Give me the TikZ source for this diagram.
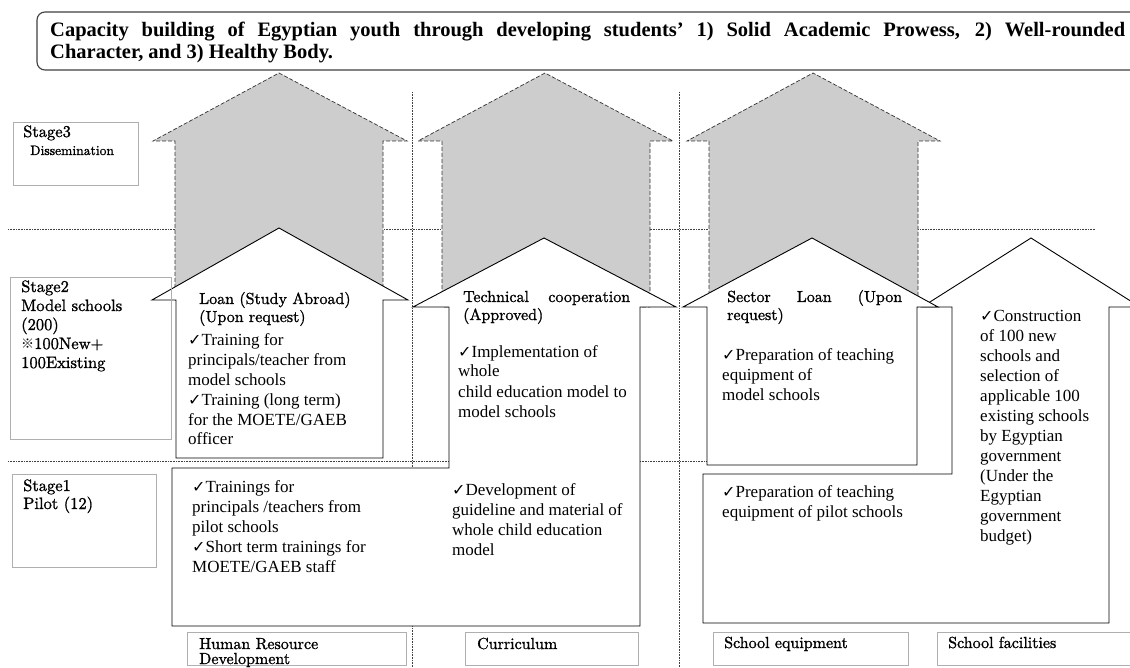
\documentclass[tikz,border=0pt]{standalone}
\usepackage{fontspec}
\newfontfamily\tms{Liberation Serif}
\newfontfamily\ckf{DejaVu Sans}
\newfontfamily\cjk{Noto Sans CJK JP}
\newfontfamily\cent{lmroman10-regular.otf}[FakeBold=1.2]
\definecolor{greyfill}{RGB}{205,205,205}
\definecolor{boxline}{RGB}{175,175,175}
\newcommand\ck{{\ckf\fontsize{16}{16}\selectfont ✓}}
\newcommand\tbk[2]{\parbox[t]{#1}{\raggedright #2}}
\tikzset{
  dotline/.style={densely dotted, line width=0.6pt, black!75},
  greyarrow/.style={fill=greyfill, draw=black!80, dash pattern=on 4pt off 2pt, line width=0.7pt},
  whitearrow/.style={fill=white, draw=black, line width=0.9pt, line join=miter},
  labelbox/.style={draw=boxline, line width=0.8pt},
  body/.style={inner sep=0pt, anchor=base west, font=\tms\fontsize{17}{20}\selectfont},
  head/.style={inner sep=0pt, anchor=base west, font=\cent\fontsize{16}{18}\selectfont},
  stagetxt/.style={inner sep=0pt, anchor=base west, font=\cent\fontsize{16.5}{19}\selectfont},
}
\begin{document}
\begin{tikzpicture}[x=1pt,y=-1pt]
\useasboundingbox (0,0) rectangle (1130,668);
\clip (0,0) rectangle (1130,668);
\fill[white] (0,0) rectangle (1130,668);

% banner
\draw[rounded corners=8pt, draw=black!75, line width=1.1pt] (37,12) rectangle (1150,70);
\node[inner sep=0pt, anchor=base west, font=\tms\bfseries\fontsize{20.5}{22}\selectfont] (title) at (50,37)
  {\parbox[t]{1075pt}{Capacity building of Egyptian youth through developing students’ 1) Solid Academic Prowess, 2) Well-rounded\linebreak Character, and 3) Healthy Body.}};

% dotted guide lines
\draw[dotline] (8,229) -- (1095,229);
\draw[dotline] (8,461) -- (707,461);
\draw[dotline] (412,92) -- (412,668);
\draw[dotline] (679,92) -- (679,668);

% grey (stage 3) arrows
\draw[greyarrow] (175,300) -- (175,141) -- (153,141) -- (279,73) -- (407,141) -- (383,141) -- (383,300) -- cycle;
\draw[greyarrow] (442,307) -- (442,141) -- (418,141) -- (545,73) -- (673,141) -- (650,141) -- (650,307) -- cycle;
\draw[greyarrow] (709,307) -- (709,141) -- (687,141) -- (813,73) -- (940,141) -- (918,141) -- (918,307) -- cycle;

% white arrows
\draw[whitearrow] (172,468) -- (449,468) -- (449,307) -- (413,307) -- (544,238) -- (676,307) -- (640,307) -- (640,626) -- (172,626) -- cycle;
\draw[whitearrow] (176,458) -- (176,300) -- (152,300) -- (279,228) -- (408,300) -- (383,300) -- (383,458) -- cycle;
\draw[whitearrow] (703,474) -- (952,474) -- (952,307) -- (922,307) -- (1031,238) -- (1140,307) -- (1109,307) -- (1109,623) -- (703,623) -- cycle;
\draw[whitearrow] (707,465) -- (707,307) -- (683,307) -- (812,238) -- (938,307) -- (917,307) -- (917,465) -- cycle;

% stage boxes
\draw[labelbox] (13,122) rectangle (138,185);
\draw[labelbox] (10,277) rectangle (171,439);
\draw[labelbox] (12,474) rectangle (156,567);
\node[stagetxt] (s3a) at (23,137) {Stage3};
\node[inner sep=0pt, anchor=base west, font=\cent\fontsize{13.6}{16}\selectfont] (s3b) at (30,155) {Dissemination};
\node[stagetxt] (s2) at (21,292) {\tbk{150pt}{Stage2\\Model schools\\(200)\\{\cjk\fontsize{13}{13}\selectfont ※}100New+\\100Existing}};
\node[stagetxt, font=\cent\fontsize{16.5}{18}\selectfont] (s1) at (23,491) {\tbk{130pt}{Stage1\\Pilot (12)}};

% bottom category boxes
\draw[labelbox] (187,632) rectangle (406,665);
\draw[labelbox] (465,632) rectangle (638,665);
\draw[labelbox] (713,632) rectangle (908,665);
\draw[labelbox] (937,632) rectangle (1140,665);
\node[head, font=\cent\fontsize{16}{15}\selectfont] (l1) at (199,649) {\tbk{200pt}{Human Resource\\Development}};
\node[head] (l2) at (477,649) {Curriculum};
\node[head] (l3) at (724,648) {School equipment};
\node[head] (l4) at (948,648) {School facilities};

% arrow headings
\node[head] (h1) at (199,304) {\tbk{190pt}{Loan (Study Abroad)\\(Upon request)}};
\node[head] (h2) at (463,302) {\tbk{167pt}{Technical\hfill cooperation\\(Approved)}};
\node[head] (h3) at (727,302) {\tbk{175pt}{Sector\hfill Loan\hfill (Upon\\request)}};

% body texts
\node[body] (b1) at (188,345) {\tbk{200pt}{\ck Training for\\principals/teacher from\\model schools\\\ck Training (long term)\\for the MOETE/GAEB\\officer}};
\node[body] (b2) at (192,492) {\tbk{220pt}{\ck Trainings for\\principals /teachers from\\pilot schools\\\ck Short term trainings for\\MOETE/GAEB staff}};
\node[body] (b3) at (458,357) {\tbk{200pt}{\ck Implementation of\\whole\\child education model to\\model schools}};
\node[body] (b4) at (452,495) {\tbk{200pt}{\ck Development of\\guideline and material of\\whole child education\\model}};
\node[body] (b5) at (722,360) {\tbk{200pt}{\ck Preparation of teaching\\equipment of\\model schools}};
\node[body] (b6) at (722,497) {\tbk{220pt}{\ck Preparation of teaching\\equipment of pilot schools}};
\node[body] (b7) at (980,322) {\tbk{150pt}{\ck Construction\\of 100 new\\schools and\\selection of\\applicable 100\\existing schools\\by Egyptian\\government\\(Under the\\Egyptian\\government\\budget)}};
\end{tikzpicture}
\end{document}
